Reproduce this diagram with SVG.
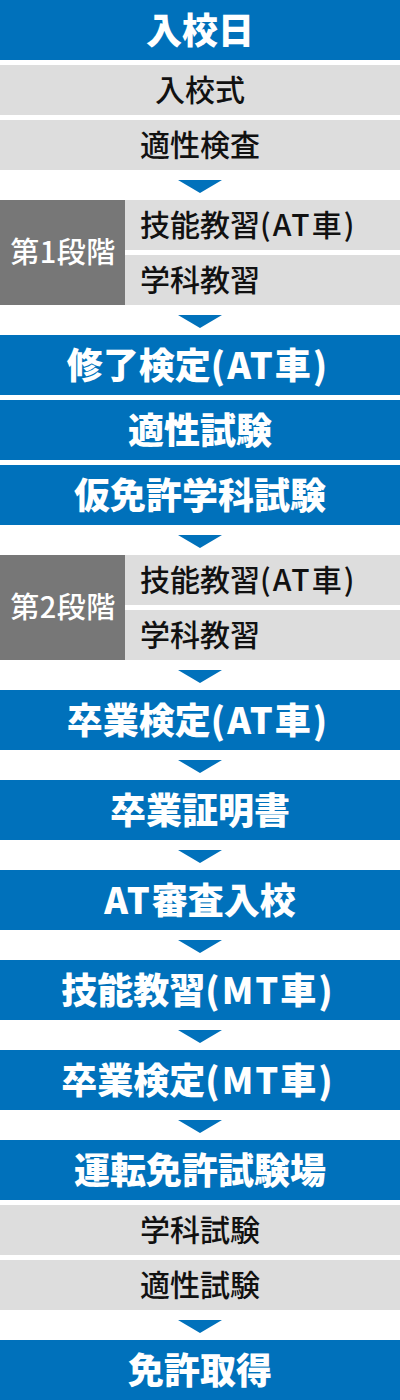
<svg xmlns="http://www.w3.org/2000/svg" width="400" height="1400" viewBox="0 0 400 1400">
<defs>
<style>
.blue{fill:#0071BB}
.gray{fill:#DDDDDD}
.dark{fill:#777777}
.bt{fill:#FFFFFF;font-family:"Noto Sans CJK JP","Noto Sans",sans-serif;font-size:36px;font-weight:900;text-anchor:middle}
.gt{fill:#111111;font-family:"Noto Sans CJK JP","Noto Sans",sans-serif;font-size:30px;font-weight:500;text-anchor:middle}
.lt{fill:#111111;font-family:"Noto Sans CJK JP","Noto Sans",sans-serif;font-size:30px;font-weight:500;text-anchor:start}
.st{fill:#FFFFFF;font-family:"Noto Sans CJK JP","Noto Sans",sans-serif;font-size:29px;font-weight:500;text-anchor:middle;letter-spacing:0.5px}
.p{letter-spacing:2px}
.arr{fill:#0071BB}
</style>
<polygon id="tri" points="178,0 222,0 200,13"/>
</defs>
<rect width="400" height="1400" fill="#FFFFFF"/>
<g id="n1"><rect class="blue" x="0" y="0" width="400" height="60"/><text class="bt" x="200" y="44">入校日</text></g>
<g id="n2"><rect class="gray" x="0" y="65" width="400" height="50"/><text class="gt" x="200" y="101">入校式</text></g>
<g id="n3"><rect class="gray" x="0" y="120" width="400" height="50"/><text class="gt" x="200" y="156">適性検査</text></g>
<g id="n4"><rect class="dark" x="0" y="200" width="125" height="105"/><text class="st" x="63" y="263">第1段階</text>
<rect class="gray" x="125" y="200" width="275" height="50"/><text class="lt" x="140" y="236">技能教習<tspan class="p">(AT車)</tspan></text>
<rect class="gray" x="125" y="255" width="275" height="50"/><text class="lt" x="140" y="291">学科教習</text></g>
<g id="n5"><rect class="blue" x="0" y="335" width="400" height="60"/><text class="bt" x="198" y="379">修了検定<tspan class="p">(AT車)</tspan></text></g>
<g id="n6"><rect class="blue" x="0" y="400" width="400" height="60"/><text class="bt" x="200" y="444">適性試験</text></g>
<g id="n7"><rect class="blue" x="0" y="465" width="400" height="60"/><text class="bt" x="200" y="509">仮免許学科試験</text></g>
<g id="n8"><rect class="dark" x="0" y="555" width="125" height="105"/><text class="st" x="63" y="618">第2段階</text>
<rect class="gray" x="125" y="555" width="275" height="50"/><text class="lt" x="140" y="591">技能教習<tspan class="p">(AT車)</tspan></text>
<rect class="gray" x="125" y="610" width="275" height="50"/><text class="lt" x="140" y="646">学科教習</text></g>
<g id="n9"><rect class="blue" x="0" y="690" width="400" height="60"/><text class="bt" x="198" y="734">卒業検定<tspan class="p">(AT車)</tspan></text></g>
<g id="n10"><rect class="blue" x="0" y="780" width="400" height="60"/><text class="bt" x="200" y="824">卒業証明書</text></g>
<g id="n11"><rect class="blue" x="0" y="870" width="400" height="60"/><text class="bt" x="200" y="914"><tspan class="p">AT</tspan>審査入校</text></g>
<g id="n12"><rect class="blue" x="0" y="960" width="400" height="60"/><text class="bt" x="198" y="1004">技能教習<tspan class="p">(MT車)</tspan></text></g>
<g id="n13"><rect class="blue" x="0" y="1050" width="400" height="60"/><text class="bt" x="198" y="1094">卒業検定<tspan class="p">(MT車)</tspan></text></g>
<g id="n14"><rect class="blue" x="0" y="1140" width="400" height="60"/><text class="bt" x="200" y="1184">運転免許試験場</text></g>
<g id="n15"><rect class="gray" x="0" y="1205" width="400" height="50"/><text class="gt" x="200" y="1241">学科試験</text></g>
<g id="n16"><rect class="gray" x="0" y="1260" width="400" height="50"/><text class="gt" x="200" y="1296">適性試験</text></g>
<g id="n17"><rect class="blue" x="0" y="1340" width="400" height="60"/><text class="bt" x="200" y="1384">免許取得</text></g>
<g id="connectors" class="arr">
<use href="#tri" y="180"/>
<use href="#tri" y="315"/>
<use href="#tri" y="535"/>
<use href="#tri" y="670"/>
<use href="#tri" y="760"/>
<use href="#tri" y="850"/>
<use href="#tri" y="940"/>
<use href="#tri" y="1030"/>
<use href="#tri" y="1120"/>
<use href="#tri" y="1320"/>
</g>
</svg>
